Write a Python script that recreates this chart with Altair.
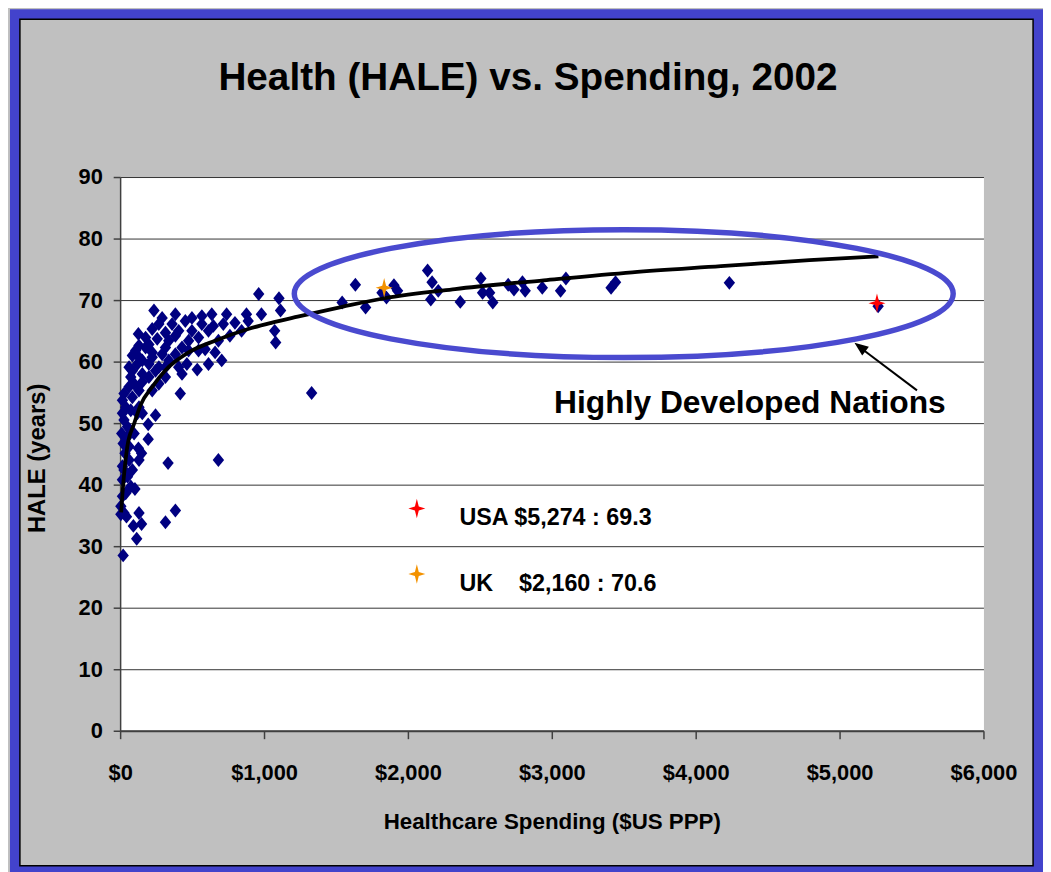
import altair as alt
import pandas as pd

# ---------------- data ----------------
spend = [963, 1104, 1115, 235, 127, 878, 982, 1074, 1081, 740,
         637, 568, 798, 568, 499, 648, 717, 384, 315, 223,
         258, 177, 108, 131, 62, 430, 476, 614, 763, 545,
         464, 536, 430, 315, 246, 200, 154, 97, 27, 39,
         16, 51, 11, 21, 34, 62, 16, 85, 51, 16,
         39, 5, 27, 5, 44, 103, 149, 127, 333, 683,
         195, 195, 246, 418, 384, 315, 149, 92, 115, 21,
         154, 131, 85, 62, 131, 223, 269, 338, 384, 292,
         223, 154, 85, 361, 269, 453, 545, 683, 844, 890,
         706, 614, 315, 200, 120, 74, 16, 120, 27, 97,
         62, 131, 74, 16, 131, 27, 407, 338, 499, 131,
         85, 177, 292, 384, 315, 269, 407, 591, 660, 476,
         154, 200, 223, 74, 51,
         1331, 1543, 1635, 1706, 1820, 1903, 1928, 1851, 2137, 2168,
         2211, 2159, 2364, 2507, 2519, 2568, 2590, 2697, 2737, 2796,
         2815, 2934, 3061, 3098, 3412, 3443, 4234, 5268]
hale = [71.0, 70.3, 68.3, 68.3, 64.5, 67.7, 67.7, 65.0, 63.1, 67.7,
        67.7, 67.4, 66.3, 66.1, 65.0, 65.8, 66.1, 64.2, 64.7, 65.3,
        63.7, 62.3, 61.8, 60.7, 59.1, 62.3, 63.4, 65.0, 64.2, 61.8,
        59.6, 58.7, 58.0, 57.5, 58.5, 59.6, 58.0, 56.4, 54.8, 52.6,
        51.6, 49.4, 48.3, 46.7, 45.1, 44.0, 43.0, 42.4, 41.3, 40.8,
        38.6, 36.5, 35.4, 35.2, 34.8, 39.3, 45.1, 45.9, 43.5, 44.0,
        49.8, 47.4, 51.3, 54.8, 35.8, 33.9, 33.6, 33.3, 31.2, 28.5,
        51.6, 52.6, 54.2, 55.9, 55.3, 55.3, 56.4, 60.2, 61.2, 61.2,
        61.5, 60.2, 58.5, 66.1, 66.1, 66.6, 63.9, 63.4, 65.0, 66.6,
        60.2, 59.6, 59.1, 62.8, 59.6, 57.5, 53.7, 51.6, 50.5, 48.3,
        46.2, 44.0, 39.7, 38.1, 35.4, 42.4, 65.0, 63.4, 67.1, 62.6,
        61.0, 63.9, 67.1, 67.7, 62.3, 59.1, 59.1, 62.0, 61.5, 61.8,
        56.7, 57.5, 60.7, 52.1, 47.8,
        54.9, 69.6, 72.5, 68.8, 71.2, 72.4, 71.5, 70.4, 74.8, 72.9,
        71.5, 70.1, 69.7, 73.5, 71.2, 71.2, 69.6, 72.5, 71.7, 72.9,
        71.5, 72.0, 71.5, 73.5, 72.0, 72.9, 72.8, 69.0]

# logarithmic trend line
trend_x = [7, 16, 50, 97, 143, 223, 315, 476, 660, 890, 1050, 1234,
           1543, 1834, 2328, 2944, 3559, 4175, 4791, 5270]
trend_y = [35.5, 38.5, 46.2, 49.9, 53.0, 55.9, 58.6, 61.5, 63.4, 65.3, 66.3, 67.3,
           68.9, 70.3, 71.8, 73.2, 74.5, 75.5, 76.5, 77.1]

hl_country = ["USA", "UK"]
hl_spend = [5260, 1835]
hl_hale = [69.5, 72.0]
hl_color = ["#FF0000", "#F39200"]

legend_labels = ["USA $5,274 : 69.3", "UK\u00a0\u00a0\u00a0\u00a0$2,160 : 70.6"]
annotation = "Highly Developed Nations"
title_text = "Health (HALE) vs. Spending, 2002"

x_ticks = [0, 1000, 2000, 3000, 4000, 5000, 6000]
y_ticks = [0, 10, 20, 30, 40, 50, 60, 70, 80, 90]

# ---------------- styling ----------------
SANS = "'Liberation Sans', Arial, Helvetica, sans-serif"
BLUE = "#4343CC"
GRAY = "#C0C0C0"
NAVY = "#000080"
DIAMOND = "M-0.82,0L0,-1L0.82,0L0,1Z"
STAR = "M0,-1L0.2,-0.2L0.88,0L0.2,0.2L0,1L-0.2,0.2L-0.88,0L-0.2,-0.2Z"
K = 0.5523
RY = 0.194
ELLIPSE = (f"M-1,0C-1,{-RY*K:.4f},{-K:.4f},{-RY},0,{-RY}"
           f"C{K:.4f},{-RY},1,{-RY*K:.4f},1,0"
           f"C1,{RY*K:.4f},{K:.4f},{RY},0,{RY}"
           f"C{-K:.4f},{RY},-1,{RY*K:.4f},-1,0Z")
ARROWHEAD = "M0,0L0.8,2L-0.8,2Z"

W, H = 870, 558

df = pd.DataFrame({"spend": spend, "hale": hale})
tr = pd.DataFrame({"spend": trend_x, "hale": trend_y})
hl = pd.DataFrame({"country": hl_country, "spend": hl_spend, "hale": hl_hale})
one = pd.DataFrame({"k": [0]})

xs = alt.Scale(domain=[0, 6000], nice=False)
ys = alt.Scale(domain=[0, 90], nice=False)

x_axis = alt.Axis(values=x_ticks, format="$,.0f", grid=False, labelFlush=False,
                  labelOverlap=False,
                  domainColor="#404040", domainWidth=2, tickColor="#404040",
                  tickSize=8, tickWidth=1.5, labelFont=SANS, labelFontSize=22,
                  labelFontWeight="bold", labelColor="black", labelPadding=24,
                  title="Healthcare Spending ($US PPP)", titleFont=SANS,
                  titleFontSize=22.5, titleFontWeight="bold", titleColor="black",
                  titleY=99, titleBaseline="alphabetic")
y_axis = alt.Axis(values=y_ticks, grid=True, gridColor="#333333", gridWidth=1,
                  labelOverlap=False,
                  domainColor="#404040", domainWidth=1.5, tickColor="#404040",
                  tickSize=7, tickWidth=1.5, labelFont=SANS, labelFontSize=22,
                  labelFontWeight="bold", labelColor="black", labelPadding=11,
                  title="HALE (years)", titleFont=SANS, titleFontSize=24,
                  titleFontWeight="bold", titleColor="black", titleX=-76,
                  titleY=283, titleBaseline="alphabetic", titleAngle=-90)

# frame
frame_blue = alt.Chart(one).mark_rect(fill="transparent", stroke=BLUE, strokeWidth=10).encode(
    x=alt.value(-106), x2=alt.value(925), y=alt.value(-164), y2=alt.value(699))
frame_black = alt.Chart(one).mark_rect(fill="transparent", stroke="black", strokeWidth=1.5).encode(
    x=alt.value(-101), x2=alt.value(920), y=alt.value(-159), y2=alt.value(694))

title = alt.Chart(one).mark_text(text=title_text, font=SANS, fontSize=39, fontWeight="bold",
                                 align="center", baseline="alphabetic", color="black").encode(
    x=alt.value(411), y=alt.value(-88))

points = alt.Chart(df).mark_point(shape=DIAMOND, filled=True, size=196, color=NAVY, opacity=1).encode(
    x=alt.X("spend:Q", scale=xs, axis=x_axis),
    y=alt.Y("hale:Q", scale=ys, axis=y_axis))

trend = alt.Chart(tr).mark_line(color="black", strokeWidth=3.8, interpolate="monotone").encode(
    x=alt.X("spend:Q", scale=xs), y=alt.Y("hale:Q", scale=ys))

stars = alt.Chart(hl).mark_point(shape=STAR, filled=True, size=380, opacity=1).encode(
    x=alt.X("spend:Q", scale=xs), y=alt.Y("hale:Q", scale=ys),
    color=alt.Color("country:N", scale=alt.Scale(domain=hl_country, range=hl_color), legend=None))

ellipse = alt.Chart(one).mark_point(shape=ELLIPSE, filled=False, size=664 * 664,
                                    stroke="#4A4ACF", strokeWidth=5.5, opacity=1).encode(
    x=alt.value(507.5), y=alt.value(117.5))

arrow_line = alt.Chart(one).mark_rule(color="black", strokeWidth=2).encode(
    x=alt.value(803), y=alt.value(215), x2=alt.value(746), y2=alt.value(172))
arrow_head = alt.Chart(one).mark_point(shape=ARROWHEAD, filled=True, size=196, color="black",
                                       opacity=1, angle=307).encode(
    x=alt.value(740), y=alt.value(167))

annot = alt.Chart(one).mark_text(text=annotation, font=SANS, fontSize=32, fontWeight="bold",
                                 align="right", baseline="alphabetic", color="black").encode(
    x=alt.value(832), y=alt.value(238))

legend_layers = []
for i, (lab, col) in enumerate(zip(legend_labels, hl_color)):
    py = 334 + 66 * i
    legend_layers.append(
        alt.Chart(one).mark_point(shape=STAR, filled=True, size=380, color=col, opacity=1).encode(
            x=alt.value(299), y=alt.value(py)))
    legend_layers.append(
        alt.Chart(one).mark_text(text=lab, font=SANS, fontSize=23.5, fontWeight="bold",
                                 align="left", baseline="alphabetic", color="black").encode(
            x=alt.value(342), y=alt.value(py + 17)))

chart = alt.layer(
    frame_blue, frame_black, title, points, trend, stars, ellipse, arrow_line, arrow_head, annot,
    *legend_layers
).properties(
    width=W, height=H,
    background=GRAY,
    padding={"left": 113, "top": 167, "right": 60, "bottom": 139},
    autosize=alt.AutoSizeParams(type="none"),
).configure_view(fill="white", stroke="transparent")

chart.save("out.html", embed_options={"renderer": "svg", "actions": False})
